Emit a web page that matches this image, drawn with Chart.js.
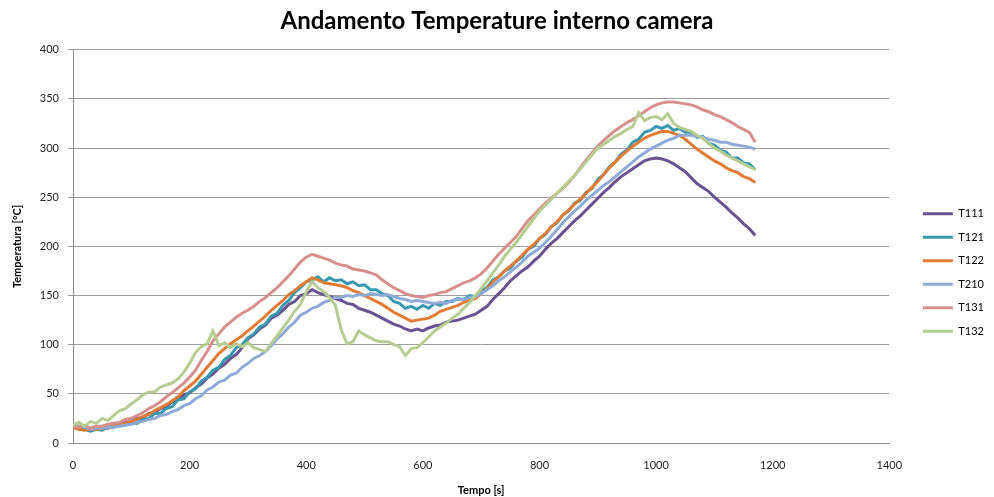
<!DOCTYPE html>
<html>
<head>
<meta charset="utf-8">
<script src="https://cdn.jsdelivr.net/npm/chart.js@4.4.1/dist/chart.umd.min.js"></script>
<style>
  html, body { margin: 0; padding: 0; background: #fff; }
  #chart { display: block; }
</style>
</head>
<body>
<canvas id="chart" width="994" height="497"></canvas>
<script>
// sampling instants [s]
const tempo = [
  0, 10, 20, 30, 40, 50, 60, 70, 80, 90,
  100, 110, 120, 130, 140, 150, 160, 170, 180, 190,
  200, 210, 220, 230, 240, 250, 260, 270, 280, 290,
  300, 310, 320, 330, 340, 350, 360, 370, 380, 390,
  400, 410, 420, 430, 440, 450, 460, 470, 480, 490,
  500, 510, 520, 530, 540, 550, 560, 570, 580, 590,
  600, 610, 620, 630, 640, 650, 660, 670, 680, 690,
  700, 710, 720, 730, 740, 750, 760, 770, 780, 790,
  800, 810, 820, 830, 840, 850, 860, 870, 880, 890,
  900, 910, 920, 930, 940, 950, 960, 970, 980, 990,
  1000, 1010, 1020, 1030, 1040, 1050, 1060, 1070, 1080, 1090,
  1100, 1110, 1120, 1130, 1140, 1150, 1160, 1170
];

// temperatures [°C] per thermocouple
const t111 = [
  16, 14, 15, 13, 15, 16, 15, 18, 18, 21,
  22, 25, 26, 30, 31, 35, 37, 42, 44, 49,
  51, 56, 60, 66, 70, 76, 80, 86, 90, 97,
  106, 110, 116, 120, 127, 130, 135, 141, 144, 150,
  152, 156, 153, 151, 149, 147, 145, 142, 141, 137,
  135, 133, 130, 127, 124, 121, 119, 116, 114, 116,
  114, 117, 119, 120, 123, 124, 125, 127, 129, 131,
  135, 139, 146, 152, 158, 165, 170, 175, 179, 185,
  190, 197, 203, 208, 214, 220, 226, 231, 237, 243,
  249, 255, 260, 266, 271, 275, 279, 283, 287, 289,
  290, 289, 287, 284, 280, 276, 270, 264, 260, 256,
  250, 245, 240, 234, 229, 223, 218, 211
];
const t121 = [
  19, 15, 14, 12, 14, 13, 16, 16, 19, 18,
  21, 20, 24, 25, 30, 30, 35, 37, 44, 45,
  52, 55, 63, 67, 74, 77, 85, 89, 97, 100,
  107, 111, 118, 121, 129, 132, 140, 145, 153, 158,
  164, 166, 169, 164, 168, 165, 166, 162, 164, 160,
  161, 156, 156, 152, 150, 144, 142, 137, 139, 136,
  140, 137, 142, 140, 144, 144, 147, 146, 150, 149,
  155, 158, 166, 169, 175, 178, 185, 189, 197, 200,
  208, 212, 220, 224, 232, 236, 244, 247, 255, 259,
  268, 273, 281, 286, 294, 298, 306, 309, 316, 318,
  322, 320, 323, 318, 320, 316, 316, 311, 312, 305,
  303, 298, 296, 290, 290, 285, 284, 278
];
const t122 = [
  16, 14, 13, 14, 14, 15, 16, 17, 18, 20,
  22, 24, 27, 29, 33, 36, 39, 43, 47, 53,
  58, 63, 70, 77, 84, 91, 96, 101, 105, 109,
  114, 119, 124, 129, 135, 140, 145, 151, 155, 160,
  164, 168, 166, 163, 162, 161, 160, 158, 155, 153,
  150, 147, 144, 141, 137, 133, 130, 127, 124, 125,
  126, 127, 130, 134, 136, 138, 140, 143, 145, 147,
  152, 157, 164, 169, 175, 180, 185, 191, 197, 202,
  208, 213, 220, 225, 232, 237, 243, 248, 254, 260,
  266, 273, 280, 286, 292, 297, 302, 306, 310, 313,
  315, 317, 317, 315, 313, 309, 304, 299, 295, 291,
  287, 284, 280, 277, 275, 271, 269, 265
];
const t210 = [
  20, 17, 16, 14, 15, 15, 16, 16, 17, 18,
  19, 21, 22, 24, 25, 28, 29, 32, 34, 38,
  40, 45, 48, 54, 57, 62, 64, 69, 71, 77,
  81, 86, 89, 93, 99, 106, 111, 118, 123, 130,
  133, 137, 139, 143, 145, 148, 148, 150, 149, 151,
  150, 152, 151, 150, 151, 149, 147, 146, 144, 145,
  144, 143, 142, 143, 142, 145, 146, 146, 148, 149,
  152, 156, 160, 165, 169, 174, 179, 184, 190, 194,
  198, 204, 210, 217, 224, 230, 236, 241, 247, 252,
  257, 262, 266, 271, 276, 281, 286, 291, 295, 299,
  302, 305, 308, 310, 313, 313, 313, 312, 311, 309,
  308, 306, 306, 304, 303, 302, 301, 299
];
const t131 = [
  17, 16, 18, 15, 17, 17, 19, 20, 21, 24,
  25, 28, 31, 35, 38, 42, 47, 51, 56, 61,
  67, 74, 84, 93, 104, 111, 118, 123, 128, 132,
  135, 139, 144, 148, 153, 158, 164, 170, 177, 184,
  189, 192, 190, 188, 186, 183, 181, 180, 177, 176,
  175, 173, 171, 166, 162, 158, 155, 152, 150, 149,
  148, 150, 151, 153, 154, 157, 160, 163, 165, 168,
  172, 178, 185, 192, 198, 204, 210, 218, 226, 232,
  238, 244, 249, 254, 259, 265, 272, 280, 288, 295,
  302, 308, 313, 318, 322, 326, 329, 333, 337, 341,
  344, 346, 347, 347, 346, 345, 344, 342, 339, 337,
  334, 332, 329, 326, 322, 319, 316, 306
];
const t132 = [
  18, 21, 17, 22, 20, 25, 23, 28, 33, 35,
  40, 44, 49, 52, 52, 57, 59, 61, 65, 72,
  81, 92, 98, 101, 114, 99, 102, 97, 101, 98,
  102, 97, 95, 93, 101, 109, 117, 125, 134, 141,
  154, 164, 158, 154, 148, 140, 115, 101, 103, 114,
  110, 107, 104, 103, 103, 100, 98, 89, 96, 97,
  102, 108, 114, 118, 122, 127, 131, 137, 143, 150,
  157, 165, 173, 181, 190, 197, 204, 212, 220, 228,
  236, 242, 248, 254, 260, 266, 272, 279, 286, 293,
  300, 304, 308, 312, 315, 319, 322, 336, 328, 331,
  332, 329, 335, 325, 321, 319, 317, 313, 310, 305,
  300, 297, 293, 290, 287, 284, 281, 278
];

const serie = [
  { nome: 'T111', valori: t111, colore: '#6a5190' },
  { nome: 'T121', valori: t121, colore: '#3798ae' },
  { nome: 'T122', valori: t122, colore: '#e27b33' },
  { nome: 'T210', valori: t210, colore: '#8eaad7' },
  { nome: 'T131', valori: t131, colore: '#d68f8d' },
  { nome: 'T132', valori: t132, colore: '#b5cd90' }
];

const yTicks = [0, 50, 100, 150, 200, 250, 300, 350, 400];
const xTicks = [0, 200, 400, 600, 800, 1000, 1200, 1400];

const font = 'Lato, "Open Sans", sans-serif';
const gridColor = '#9c9c9c';

const datasets = serie.map((s, i) => ({
  label: s.nome,
  data: tempo.map((t, k) => ({ x: t, y: s.valori[k] })),
  borderColor: s.colore,
  backgroundColor: s.colore,
  borderWidth: 3,
  pointRadius: 0,
  tension: 0,
  fill: false,
  // later series sit on top, like the spreadsheet
  order: serie.length - i
}));

new Chart(document.getElementById('chart'), {
  type: 'line',
  data: { datasets },
  options: {
    responsive: false,
    animation: false,
    layout: { padding: { left: 0, right: 0, top: 0, bottom: 0 } },
    plugins: {
      title: {
        display: true,
        text: 'Andamento Temperature interno camera',
        color: '#000',
        font: { family: font, size: 24, weight: 'bold' },
        padding: { top: 7, bottom: 14 }
      },
      legend: {
        position: 'right',
        title: { display: true, text: ' ', font: { size: 40 }, padding: 0 },
        labels: {
          usePointStyle: true,
          pointStyle: 'line',
          pointStyleWidth: 30,
          color: '#000',
          font: { family: font, size: 11 },
          padding: 12.5,
          sort: (a, b) => a.datasetIndex - b.datasetIndex
        }
      },
      tooltip: { enabled: false }
    },
    scales: {
      x: {
        type: 'linear',
        min: 0,
        max: 1400,
        afterBuildTicks: (s) => { s.ticks = xTicks.map(v => ({ value: v })); },
        afterFit: (s) => { s.height = 54; },
        grid: { display: false, drawTicks: false },
        border: { display: true, color: '#8c8c8c', width: 1 },
        ticks: {
          color: '#222',
          font: { family: font, size: 11 },
          padding: 16,
          maxRotation: 0,
          callback: (v) => String(v)
        },
        title: {
          display: true,
          text: 'Tempo [s]',
          color: '#000',
          font: { family: font, size: 11, weight: 'bold' },
          padding: { top: 0, bottom: 0 }
        }
      },
      y: {
        min: 0,
        max: 400,
        afterBuildTicks: (s) => { s.ticks = yTicks.map(v => ({ value: v })); },
        afterFit: (s) => { s.width = 73; },
        grid: { color: gridColor, tickLength: 5, tickColor: gridColor },
        border: { display: true, color: '#8c8c8c', width: 1 },
        ticks: {
          color: '#222',
          font: { family: font, size: 11 },
          padding: 9,
          callback: (v) => String(v)
        },
        title: {
          display: true,
          text: 'Temperatura [°C]',
          color: '#000',
          font: { family: font, size: 11, weight: 'bold' },
          padding: { top: 11, bottom: 0 }
        }
      },
      // empty strip between plot and legend
      gap: {
        position: 'right',
        display: true,
        grid: { display: false },
        border: { display: false },
        ticks: { display: false },
        afterFit: (s) => { s.width = 21; }
      }
    }
  }
});
</script>
</body>
</html>
